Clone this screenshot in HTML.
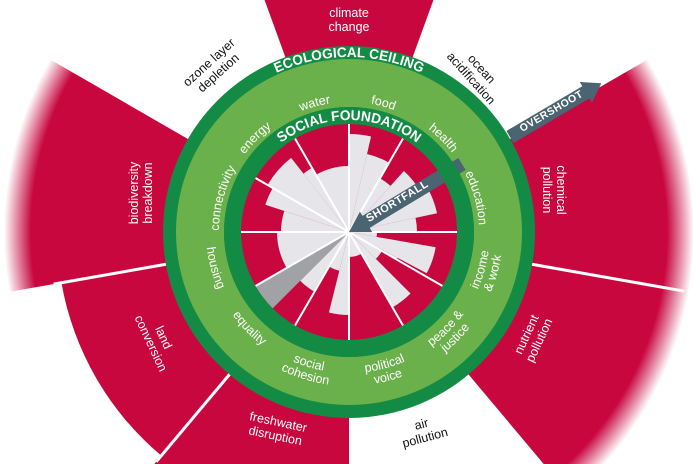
<!DOCTYPE html>
<html><head><meta charset="utf-8"><style>
html,body{margin:0;padding:0;background:#fff;width:696px;height:464px;overflow:hidden}
svg{display:block;overflow:hidden;font-family:"Liberation Sans",sans-serif}
</style></head><body>
<svg id="s" width="696" height="464" viewBox="0 0 696 464" xmlns="http://www.w3.org/2000/svg">
<defs>
<radialGradient id="fade" gradientUnits="userSpaceOnUse" cx="349" cy="232" r="380">
<stop offset="0.837" stop-color="#fff" stop-opacity="0"/>
<stop offset="0.908" stop-color="#fff" stop-opacity="1"/>
<stop offset="1" stop-color="#fff" stop-opacity="1"/>
</radialGradient>
<path id="cw130" d="M349,362 A130,130 0 1 1 349,102 A130,130 0 1 1 349,362"/>
<path id="ccw143" d="M206,232 A143,143 0 0 0 492,232"/>
<path id="ccw141" d="M208,232 A141,141 0 0 0 490,232"/>
<path id="ccw154" d="M195,232 A154,154 0 0 0 503,232"/>
<path id="eco" d="M174,232 A175,175 0 0 1 524,232"/>
<path id="soc" d="M237,232 A112,112 0 0 1 461,232"/>
</defs>
<g id="outer"></g>
<circle cx="349" cy="232" r="380" fill="url(#fade)"/>
<g id="seps"></g>
<g transform="translate(510,137) rotate(-30.5)">
<polygon points="0,-7 88,-7 88,-12 106,0 88,12 88,7 0,7" fill="#4b6472"/>
</g>
<circle cx="349" cy="232" r="186" fill="#148b44"/>
<circle cx="349" cy="232" r="173" fill="#6ab14b"/>
<circle cx="349" cy="232" r="125" fill="#148b44"/>
<circle cx="349" cy="232" r="108" fill="#c8073f"/>
<g id="inner"></g>
<g transform="translate(462,164) rotate(148.9)">
<polygon points="0,-7 112,-7 112,-12 132,0 112,12 112,7 0,7" fill="#4b6472"/>
</g>
<circle cx="349" cy="232" r="116.5" fill="none" stroke="#148b44" stroke-width="17"/>

<text transform="translate(553,114) rotate(-30.5)" text-anchor="middle" font-size="10.5" font-weight="bold" fill="#fff" letter-spacing="0.5">OVERSHOOT</text>
<text transform="translate(399,204) rotate(-31.1)" text-anchor="middle" font-size="11" font-weight="bold" fill="#fff" letter-spacing="0.5">SHORTFALL</text>

<text font-size="14" font-weight="bold" fill="#fff" textLength="150" lengthAdjust="spacingAndGlyphs"><textPath href="#eco" startOffset="50%" text-anchor="middle">ECOLOGICAL CEILING</textPath></text>
<text font-size="14" font-weight="bold" fill="#fff" textLength="146" lengthAdjust="spacingAndGlyphs"><textPath href="#soc" startOffset="50%" text-anchor="middle">SOCIAL FOUNDATION</textPath></text>

<g font-size="12.5" fill="#fff" text-anchor="middle">
<text><textPath href="#cw130" startOffset="374.4">water</textPath></text>
<text><textPath href="#cw130" startOffset="442.4">food</textPath></text>
<text><textPath href="#cw130" startOffset="510.5">health</textPath></text>
<text><textPath href="#cw130" startOffset="578.6">education</textPath></text>
<text><textPath href="#cw130" startOffset="238.2">connectivity</textPath></text>
<text><textPath href="#cw130" startOffset="306.3">energy</textPath></text>
<text><textPath href="#ccw143" startOffset="37.4">housing</textPath></text>
<text><textPath href="#ccw143" startOffset="109.8">equality</textPath></text>
<text><textPath href="#ccw141" startOffset="403.6">income</textPath></text>
<text><textPath href="#ccw154" startOffset="440.8">&amp; work</textPath></text>
<text><textPath href="#ccw141" startOffset="332.2">peace &amp;</textPath></text>
<text><textPath href="#ccw154" startOffset="362.9">justice</textPath></text>
<text><textPath href="#ccw141" startOffset="258.4">political</textPath></text>
<text><textPath href="#ccw154" startOffset="282.2">voice</textPath></text>
<text><textPath href="#ccw141" startOffset="179.7">social</textPath></text>
<text><textPath href="#ccw154" startOffset="196.2">cohesion</textPath></text>
</g>

<g font-size="12.5" text-anchor="middle">
<text x="349" y="17" fill="#fff">climate</text>
<text x="349" y="31" fill="#fff">change</text>
<g transform="translate(213,67) rotate(-42)" fill="#111"><text y="-2">ozone layer</text><text y="12">depletion</text></g>
<g transform="translate(477,73) rotate(48)" fill="#111"><text y="-2">ocean</text><text y="12">acidification</text></g>
<g transform="translate(555,190) rotate(90)" fill="#fff"><text y="-2">chemical</text><text y="12">pollution</text></g>
<g transform="translate(532,337) rotate(-65)" fill="#fff"><text y="-2">nutrient</text><text y="12">pollution</text></g>
<g transform="translate(140,193) rotate(-90)" fill="#fff"><text y="-2">biodiversity</text><text y="12">breakdown</text></g>
<g transform="translate(158,340) rotate(65)" fill="#fff"><text y="-2">land</text><text y="12">conversion</text></g>
<g transform="translate(277,428) rotate(12)" fill="#fff"><text y="-2">freshwater</text><text y="12">disruption</text></g>
<g transform="translate(423,430) rotate(-15)" fill="#111"><text y="-2">air</text><text y="12">pollution</text></g>
</g>
</svg>
<script>
(function(){
var NS="http://www.w3.org/2000/svg",cx=349,cy=232;
function p(a,r){var t=a*Math.PI/180;return [(cx+r*Math.sin(t)).toFixed(2),(cy-r*Math.cos(t)).toFixed(2)];}
function wedge(g,a1,a2,r,fill){var s=p(a1,r),e=p(a2,r),l=(a2-a1)>180?1:0;
var el=document.createElementNS(NS,"path");
el.setAttribute("d","M"+cx+","+cy+" L"+s[0]+","+s[1]+" A"+r+","+r+" 0 "+l+" 1 "+e[0]+","+e[1]+" Z");
el.setAttribute("fill",fill);g.appendChild(el);}
function line(g,a,r1,r2,w){var s=p(a,r1),e=p(a,r2);var el=document.createElementNS(NS,"line");
el.setAttribute("x1",s[0]);el.setAttribute("y1",s[1]);el.setAttribute("x2",e[0]);el.setAttribute("y2",e[1]);
el.setAttribute("stroke","#fff");el.setAttribute("stroke-width",w);g.appendChild(el);}
var R="#c8073f";
var o=document.getElementById("outer");
wedge(o,-20,20,420,R);wedge(o,60,100,360,R);wedge(o,100,140,360,R);
wedge(o,180,220,360,R);wedge(o,220,260,292,R);wedge(o,260,300,360,R);
var sp=document.getElementById("seps");
line(sp,100,180,340,3);line(sp,220,180,300,3);line(sp,260,180,300,3);
var g=document.getElementById("inner"),G="#e6e6ea";
var d=[[0,13,98],[13,30,80],[30,42,62],[42,60,82],[60,78,90],[78,90,68],
[90,100,28],[100,118,88],[118,120,55],[120,135,38],[135,150,87],[150,180,25],
[180,194,83],[194,210,40],[210,225,69],[240,270,72],[270,288,68],[288,300,88],
[300,322,94],[322,330,74],[330,360,66]];
d.forEach(function(x){wedge(g,x[0],x[1],x[2],G);});
wedge(g,225,240,108,"#a1a2a5");
for(var a=0;a<360;a+=30)line(g,a,0,108,2);
})();
</script>
</body></html>
